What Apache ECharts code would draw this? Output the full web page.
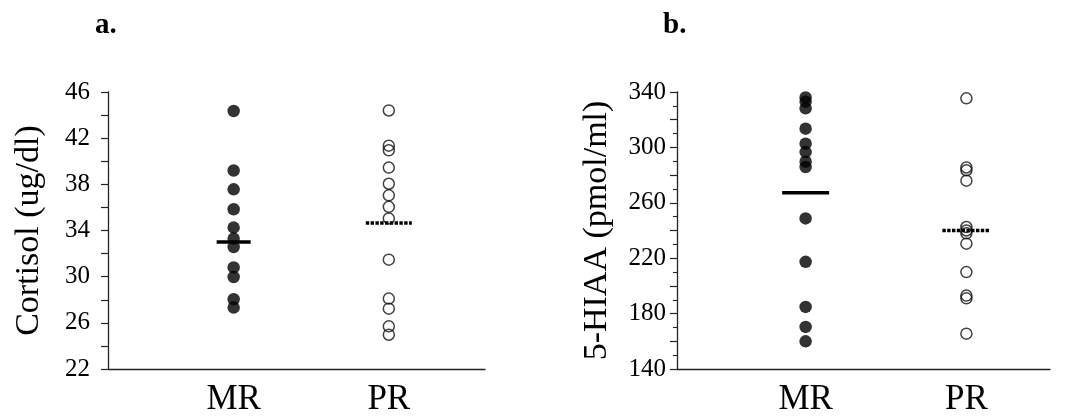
<!DOCTYPE html>
<html>
<head>
<meta charset="utf-8">
<script src="https://cdn.jsdelivr.net/npm/echarts@6/dist/echarts.min.js"></script>
<style>
html,body{margin:0;padding:0;background:#fff;}
#chart{width:1091px;height:420px;}
</style>
</head>
<body>
<div id="chart"></div>
<script>
// ---- data ----
const groups = ['MR', 'PR'];
const panelTitles = ['a.', 'b.'];
const yNames = ['Cortisol (ug/dl)', '5-HIAA (pmol/ml)'];

const cortisolMR = [44.35, 39.2, 37.57, 35.84, 34.25, 33.3, 32.57, 30.8, 29.97, 28.05, 27.32];
const cortisolPR = [44.4, 41.35, 40.95, 39.45, 38.05, 37.05, 36.05, 35.05, 31.47, 28.1, 27.23, 25.7, 24.97];
const cortisolLines = [33.0, 34.65];

const hiaaMR = [336, 333, 328.2, 313.5, 302.7, 296.6, 289.7, 285.8, 248.7, 217.4, 184.8, 170.4, 160];
const hiaaPR = [335.4, 285.5, 283.5, 276, 242.5, 240, 238, 230.5, 210, 193, 191, 165.5];
const hiaaLines = [267.3, 240];

const yLabelsA = [22, 26, 30, 34, 38, 42, 46];
const yLabelsB = [140, 180, 220, 260, 300, 340];

// ---- styling ----
const FONT = "'Liberation Serif', 'Times New Roman', serif";
const AXIS_COLOR = '#222';

function toPoints(vals, gi) { return vals.map(v => [gi + 1, v]); }

function xAxisCfg(gridIndex, min, max) {
  return {
    type: 'value', gridIndex, min, max,
    axisLine: { show: true, onZero: false, lineStyle: { color: AXIS_COLOR, width: 1.3 } },
    axisTick: { show: false },
    splitLine: { show: false },
    axisLabel: {
      customValues: [1, 2],
      formatter: v => groups[Math.round(v) - 1] || '',
      fontFamily: FONT, fontSize: 35, color: '#000', margin: 13
    }
  };
}

function yAxisCfg(gridIndex, min, max, interval, labels, name, minor, labelMargin, nameGap) {
  return {
    type: 'value', gridIndex, min, max, interval,
    name, nameLocation: 'middle', nameRotate: 90, nameGap,
    nameTextStyle: { fontFamily: FONT, fontSize: 34, color: '#000' },
    axisLine: { show: true, lineStyle: { color: AXIS_COLOR, width: 1.3 } },
    axisTick: { show: true, inside: false, length: 7, lineStyle: { color: AXIS_COLOR, width: 1.2 } },
    minorTick: minor ? { show: true, splitNumber: 2, length: 4, lineStyle: { color: AXIS_COLOR, width: 1.1 } } : { show: false },
    splitLine: { show: false },
    axisLabel: {
      formatter: v => labels.includes(v) ? String(v) : '',
      fontFamily: FONT, fontSize: 25, color: '#000', margin: labelMargin
    }
  };
}

function filled(vals, xi, yi) {
  return { type: 'scatter', xAxisIndex: xi, yAxisIndex: yi, data: toPoints(vals, 0),
    symbol: 'circle', symbolSize: 12.5, itemStyle: { color: '#000' }, z: 3 };
}
function hollow(vals, xi, yi) {
  return { type: 'scatter', xAxisIndex: xi, yAxisIndex: yi, data: toPoints(vals, 1),
    symbol: 'circle', symbolSize: 11,
    itemStyle: { color: 'rgba(0,0,0,0)', borderColor: '#111', borderWidth: 1.5 }, z: 3 };
}
function meanLine(value, gi, xi, yi, half, dashed) {
  return {
    type: 'custom', xAxisIndex: xi, yAxisIndex: yi, z: 5,
    data: [[gi + 1, value]],
    renderItem: (params, api) => {
      const p = api.coord([api.value(0), api.value(1)]);
      return {
        type: 'line',
        shape: { x1: p[0] - half, y1: p[1], x2: p[0] + half, y2: p[1] },
        style: dashed
          ? { stroke: '#000', lineWidth: 3.6, lineDash: [3.4, 1.4], lineCap: 'butt' }
          : { stroke: '#000', lineWidth: 3.6, lineCap: 'butt' }
      };
    }
  };
}

const chart = echarts.init(document.getElementById('chart'), null, { renderer: 'canvas' });
chart.setOption({
  animation: false,
  backgroundColor: '#fff',
  title: [
    { text: panelTitles[0], left: 90, top: 6, textStyle: { fontFamily: FONT, fontWeight: 'bold', fontSize: 29, color: '#000' } },
    { text: panelTitles[1], left: 658, top: 6, textStyle: { fontFamily: FONT, fontWeight: 'bold', fontSize: 29, color: '#000' } }
  ],
  grid: [
    { left: 108, top: 92, width: 377, height: 277 },
    { left: 677, top: 92, width: 373, height: 277 }
  ],
  xAxis: [ xAxisCfg(0, 0.19, 2.62), xAxisCfg(1, 0.2, 2.52) ],
  yAxis: [
    yAxisCfg(0, 22, 46, 2, yLabelsA, yNames[0], false, 18, 62),
    yAxisCfg(1, 140, 340, 20, yLabelsB, yNames[1], true, 11, 63)
  ],
  series: [
    filled(cortisolMR, 0, 0),
    hollow(cortisolPR, 0, 0),
    meanLine(cortisolLines[0], 0, 0, 0, 17, false),
    meanLine(cortisolLines[1], 1, 0, 0, 23, true),
    filled(hiaaMR, 1, 1),
    hollow(hiaaPR, 1, 1),
    meanLine(hiaaLines[0], 0, 1, 1, 23.5, false),
    meanLine(hiaaLines[1], 1, 1, 1, 24, true)
  ]
});
</script>
</body>
</html>
